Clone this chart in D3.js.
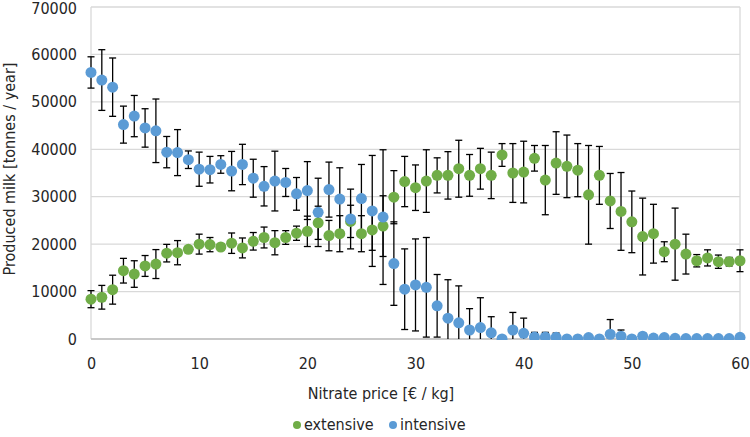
<!DOCTYPE html>
<html><head><meta charset="utf-8">
<script src="https://cdn.jsdelivr.net/npm/d3@7"></script>
<style>body{margin:0;background:#fff}svg{display:block}text{font-family:"DejaVu Sans Condensed","DejaVu Sans",sans-serif;font-stretch:condensed;fill:#262626}</style>
</head><body><svg id="c" width="750" height="437"></svg>
<script>
const prices = d3.range(0, 61);
const extensive = [8400,8800,10400,14400,13700,15400,15800,18100,18200,18900,20000,19900,19400,20200,19200,20600,21400,20300,21400,22300,22700,24500,21800,22200,24800,22200,23000,23800,29900,33200,31900,33300,34500,34500,35900,34500,35900,34500,38800,35000,35200,38100,33500,37100,36400,35600,30400,34500,29100,26900,24700,21600,22200,18400,20000,17900,16500,17100,16300,16300,16500];
const extensiveErr = [1800,2500,3050,2600,2800,2200,3050,1850,2550,600,2100,1500,700,2150,2100,1850,2200,2550,1450,1500,3200,3500,3200,3800,3400,3800,4300,6400,5600,5300,4800,6600,3700,5000,6000,4400,4300,4900,2400,6200,6500,2700,7300,6600,6600,5600,10400,6100,5800,8200,6500,8100,6200,2100,7600,4200,1300,1700,1400,900,2300];
const intensive = [56200,54600,53100,45200,47000,44500,43900,39400,39300,37800,35800,35700,36800,35400,36800,33900,32200,33300,33000,30600,31300,26700,31500,29500,25300,29600,27000,25700,15900,10500,11400,10900,7000,4400,3400,1900,2400,1300,0,1900,1200,400,400,350,0,0,300,0,1000,600,0,600,200,300,150,100,100,100,100,100,350];
const intensiveErr = [3300,6400,6150,3900,4350,4050,6700,3300,4850,1850,3600,2800,1850,4150,4250,4000,4150,6300,2950,3450,6100,7200,5800,6600,6300,7200,11700,14200,8800,8500,9700,10500,6600,8100,7800,4500,6300,3400,0,3700,3200,1000,1000,900,0,0,500,0,3100,1300,0,700,300,400,0,0,0,0,0,0,0];
const yTicks = [0,10000,20000,30000,40000,50000,60000,70000];
const xTicks = [0,10,20,30,40,50,60];
const seriesNames = ["extensive","intensive"];
const colors = ["#70AD47","#5B9BD5"];

const svg = d3.select("#c");
const L=91, R=740, T=7, B=339;
const x = d3.scaleLinear().domain([0,60]).range([L,R]);
const y = d3.scaleLinear().domain([0,70000]).range([B,T]);

svg.append("defs").append("clipPath").attr("id","pc").append("rect")
  .attr("x",L-10).attr("y",T-10).attr("width",R-L+20).attr("height",B-T+11);

// grid
svg.append("g").selectAll("line").data(yTicks).join("line")
  .attr("x1",L).attr("x2",R).attr("y1",d=>y(d)).attr("y2",d=>y(d))
  .attr("stroke","#d9d9d9").attr("stroke-width",1.3);
svg.append("line").attr("x1",L).attr("x2",L).attr("y1",T).attr("y2",B).attr("stroke","#d9d9d9").attr("stroke-width",1.3);
svg.append("line").attr("x1",R).attr("x2",R).attr("y1",T).attr("y2",B).attr("stroke","#d9d9d9").attr("stroke-width",1.3);
svg.append("line").attr("x1",L).attr("x2",R).attr("y1",B).attr("y2",B).attr("stroke","#bfbfbf").attr("stroke-width",1.5);

// axes labels
const yAxis = d3.axisLeft(y).tickValues(yTicks).tickSize(0).tickPadding(14).tickFormat(d3.format("d"));
const gy = svg.append("g").attr("transform",`translate(${L},0)`).call(yAxis);
gy.select(".domain").remove();
gy.selectAll("text").attr("font-size",16).attr("fill","#262626").style("font-family",null);
gy.selectAll(".tick").filter(d=>d===70000).select("text").attr("dy","0.36em").attr("y",1);
const xAxis = d3.axisBottom(x).tickValues(xTicks).tickSize(0).tickPadding(19);
const gx = svg.append("g").attr("transform",`translate(0,${B})`).call(xAxis);
gx.select(".domain").remove();
gx.selectAll("text").attr("font-size",16).attr("fill","#262626").style("font-family",null);

svg.append("text").attr("x",381).attr("y",399).attr("text-anchor","middle").attr("font-size",16).text("Nitrate price [€ / kg]");
svg.append("text").attr("transform","translate(15,169) rotate(-90)").attr("text-anchor","middle").attr("font-size",16).text("Produced milk [tonnes / year]");

const data = [
  prices.map((p,i)=>({p, v:extensive[i], e:extensiveErr[i]})),
  prices.map((p,i)=>({p, v:intensive[i], e:intensiveErr[i]}))
];
const plot = svg.append("g").attr("clip-path","url(#pc)");
data.forEach((s,k)=>{
  const g = plot.append("g");
  const eb = s.filter(d=>d.e>0);
  g.selectAll("line.v").data(eb).join("line").attr("class","v")
    .attr("x1",d=>x(d.p)).attr("x2",d=>x(d.p)).attr("y1",d=>y(d.v+d.e)).attr("y2",d=>y(Math.max(0,d.v-d.e)))
    .attr("stroke","#000").attr("stroke-width",1.3);
  g.selectAll("line.t").data(eb).join("line").attr("class","t")
    .attr("x1",d=>x(d.p)-3.5).attr("x2",d=>x(d.p)+3.5).attr("y1",d=>y(d.v+d.e)).attr("y2",d=>y(d.v+d.e))
    .attr("stroke","#000").attr("stroke-width",1.3);
  g.selectAll("line.b").data(eb.filter(d=>d.v-d.e>=0)).join("line").attr("class","b")
    .attr("x1",d=>x(d.p)-3.5).attr("x2",d=>x(d.p)+3.5).attr("y1",d=>y(d.v-d.e)).attr("y2",d=>y(d.v-d.e))
    .attr("stroke","#000").attr("stroke-width",1.3);
});
data.forEach((s,k)=>{
  plot.append("g").selectAll("circle").data(s).join("circle")
    .attr("cx",d=>x(d.p)).attr("cy",d=>y(d.v)).attr("r",5.5).attr("fill",colors[k]);
});

// legend
const leg = svg.append("g");
const lx = [297, 393];
seriesNames.forEach((n,k)=>{
  leg.append("circle").attr("cx",lx[k]).attr("cy",425).attr("r",4).attr("fill",colors[k]);
  leg.append("text").attr("x",lx[k]+7).attr("y",430).attr("font-size",16).text(n);
});
</script></body></html>
